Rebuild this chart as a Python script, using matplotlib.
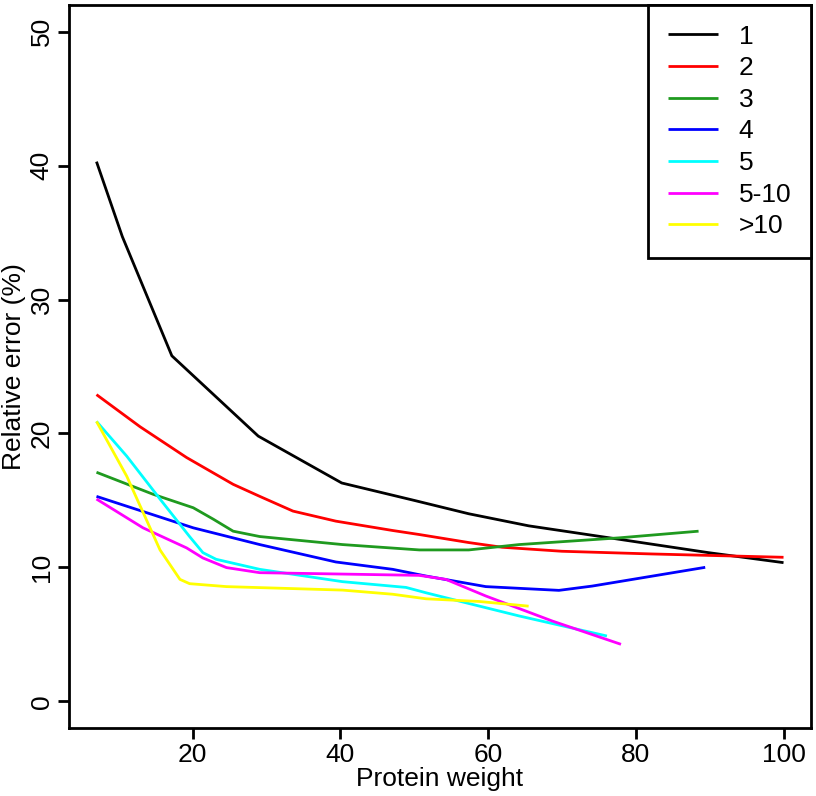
import matplotlib
matplotlib.use("Agg")
import matplotlib.pyplot as plt

plt.rcParams['font.family'] = ['Liberation Sans', 'DejaVu Sans']

labels = ["1", "2", "3", "4", "5", "5-10", ">10"]
colors = ["black", "red", "#1f9a1f", "blue", "cyan", "magenta", "yellow"]

x1 = [7, 10.5, 17.2, 28.9, 40.2, 50.0, 57.4, 65.5, 77.7, 89.8, 100]
y1 = [40.3, 34.7, 25.8, 19.8, 16.3, 15.0, 14.0, 13.1, 12.1, 11.1, 10.35]

x2 = [7, 12.9, 19.2, 25.5, 29.1, 33.6, 39.4, 47.1, 50.7, 57.4, 61.9, 70, 82.1, 100]
y2 = [22.9, 20.5, 18.2, 16.2, 15.3, 14.2, 13.45, 12.75, 12.45, 11.85, 11.5, 11.2, 11.0, 10.75]

x3 = [7, 14.7, 20.1, 22.8, 25.5, 29.1, 40.3, 50.7, 57.4, 64.2, 77.7, 88.5]
y3 = [17.1, 15.45, 14.45, 13.6, 12.7, 12.3, 11.7, 11.3, 11.3, 11.7, 12.2, 12.7]

x4 = [7, 20.1, 29.1, 39.4, 47.1, 51.6, 59.7, 69.6, 74.1, 89.4]
y4 = [15.3, 12.95, 11.7, 10.4, 9.85, 9.35, 8.56, 8.28, 8.6, 10.0]

x5 = [7, 11.1, 15.6, 19.6, 21.4, 23.2, 29.1, 40.3, 48.9, 51.6, 57.4, 64.2, 76.1]
y5 = [20.9, 18.3, 15.1, 12.3, 11.1, 10.6, 9.85, 8.93, 8.5, 8.1, 7.3, 6.37, 4.87]

x6 = [7, 13.3, 19.2, 21.4, 24.6, 29.1, 40.0, 50.7, 54.3, 59.7, 68.7, 78.0]
y6 = [15.1, 12.95, 11.45, 10.7, 9.98, 9.6, 9.5, 9.4, 9.1, 7.86, 5.99, 4.25]

x7 = [7, 11.1, 15.6, 18.3, 19.6, 24.6, 40.3, 47.1, 51.6, 58.8, 65.5]
y7 = [20.9, 16.8, 11.3, 9.1, 8.78, 8.56, 8.3, 7.99, 7.65, 7.45, 7.1]

series_x = [x1, x2, x3, x4, x5, x6, x7]
series_y = [y1, y2, y3, y4, y5, y6, y7]

xticks = [20, 40, 60, 80, 100]
yticks = [0, 10, 20, 30, 40, 50]

FS = 19

fig = plt.figure(figsize=(8.16, 7.96), dpi=100)
ax = fig.add_axes([69/816, 1-728/796, (811-69)/816, (728-5)/796])

for xs, ys, c, lab in zip(series_x, series_y, colors, labels):
    ax.plot(xs, ys, color=c, lw=2.0, label=lab, solid_capstyle='butt')

ax.set_xlim(3.28, 103.72)
ax.set_ylim(-2, 52)
ax.set_xticks(xticks)
ax.set_yticks(yticks)
ax.tick_params(direction='out', length=8, width=2, labelsize=FS)
ax.tick_params(axis='x', pad=3)
ax.tick_params(axis='y', pad=3)
for lab in ax.get_yticklabels():
    lab.set_rotation(90)
    lab.set_va('center')
for s in ax.spines.values():
    s.set_linewidth(2)

ax.set_xlabel("Protein weight", fontsize=FS, labelpad=0)
ax.set_ylabel("Relative error (%)", fontsize=FS, labelpad=3)

leg = ax.legend(loc='upper right', fontsize=FS, handlelength=1.9, handletextpad=0.8,
                borderpad=0.74, labelspacing=0.29, borderaxespad=0, fancybox=False,
                framealpha=1, edgecolor='black')
leg.get_frame().set_linewidth(2)

fig.savefig("out.png", dpi=100)
